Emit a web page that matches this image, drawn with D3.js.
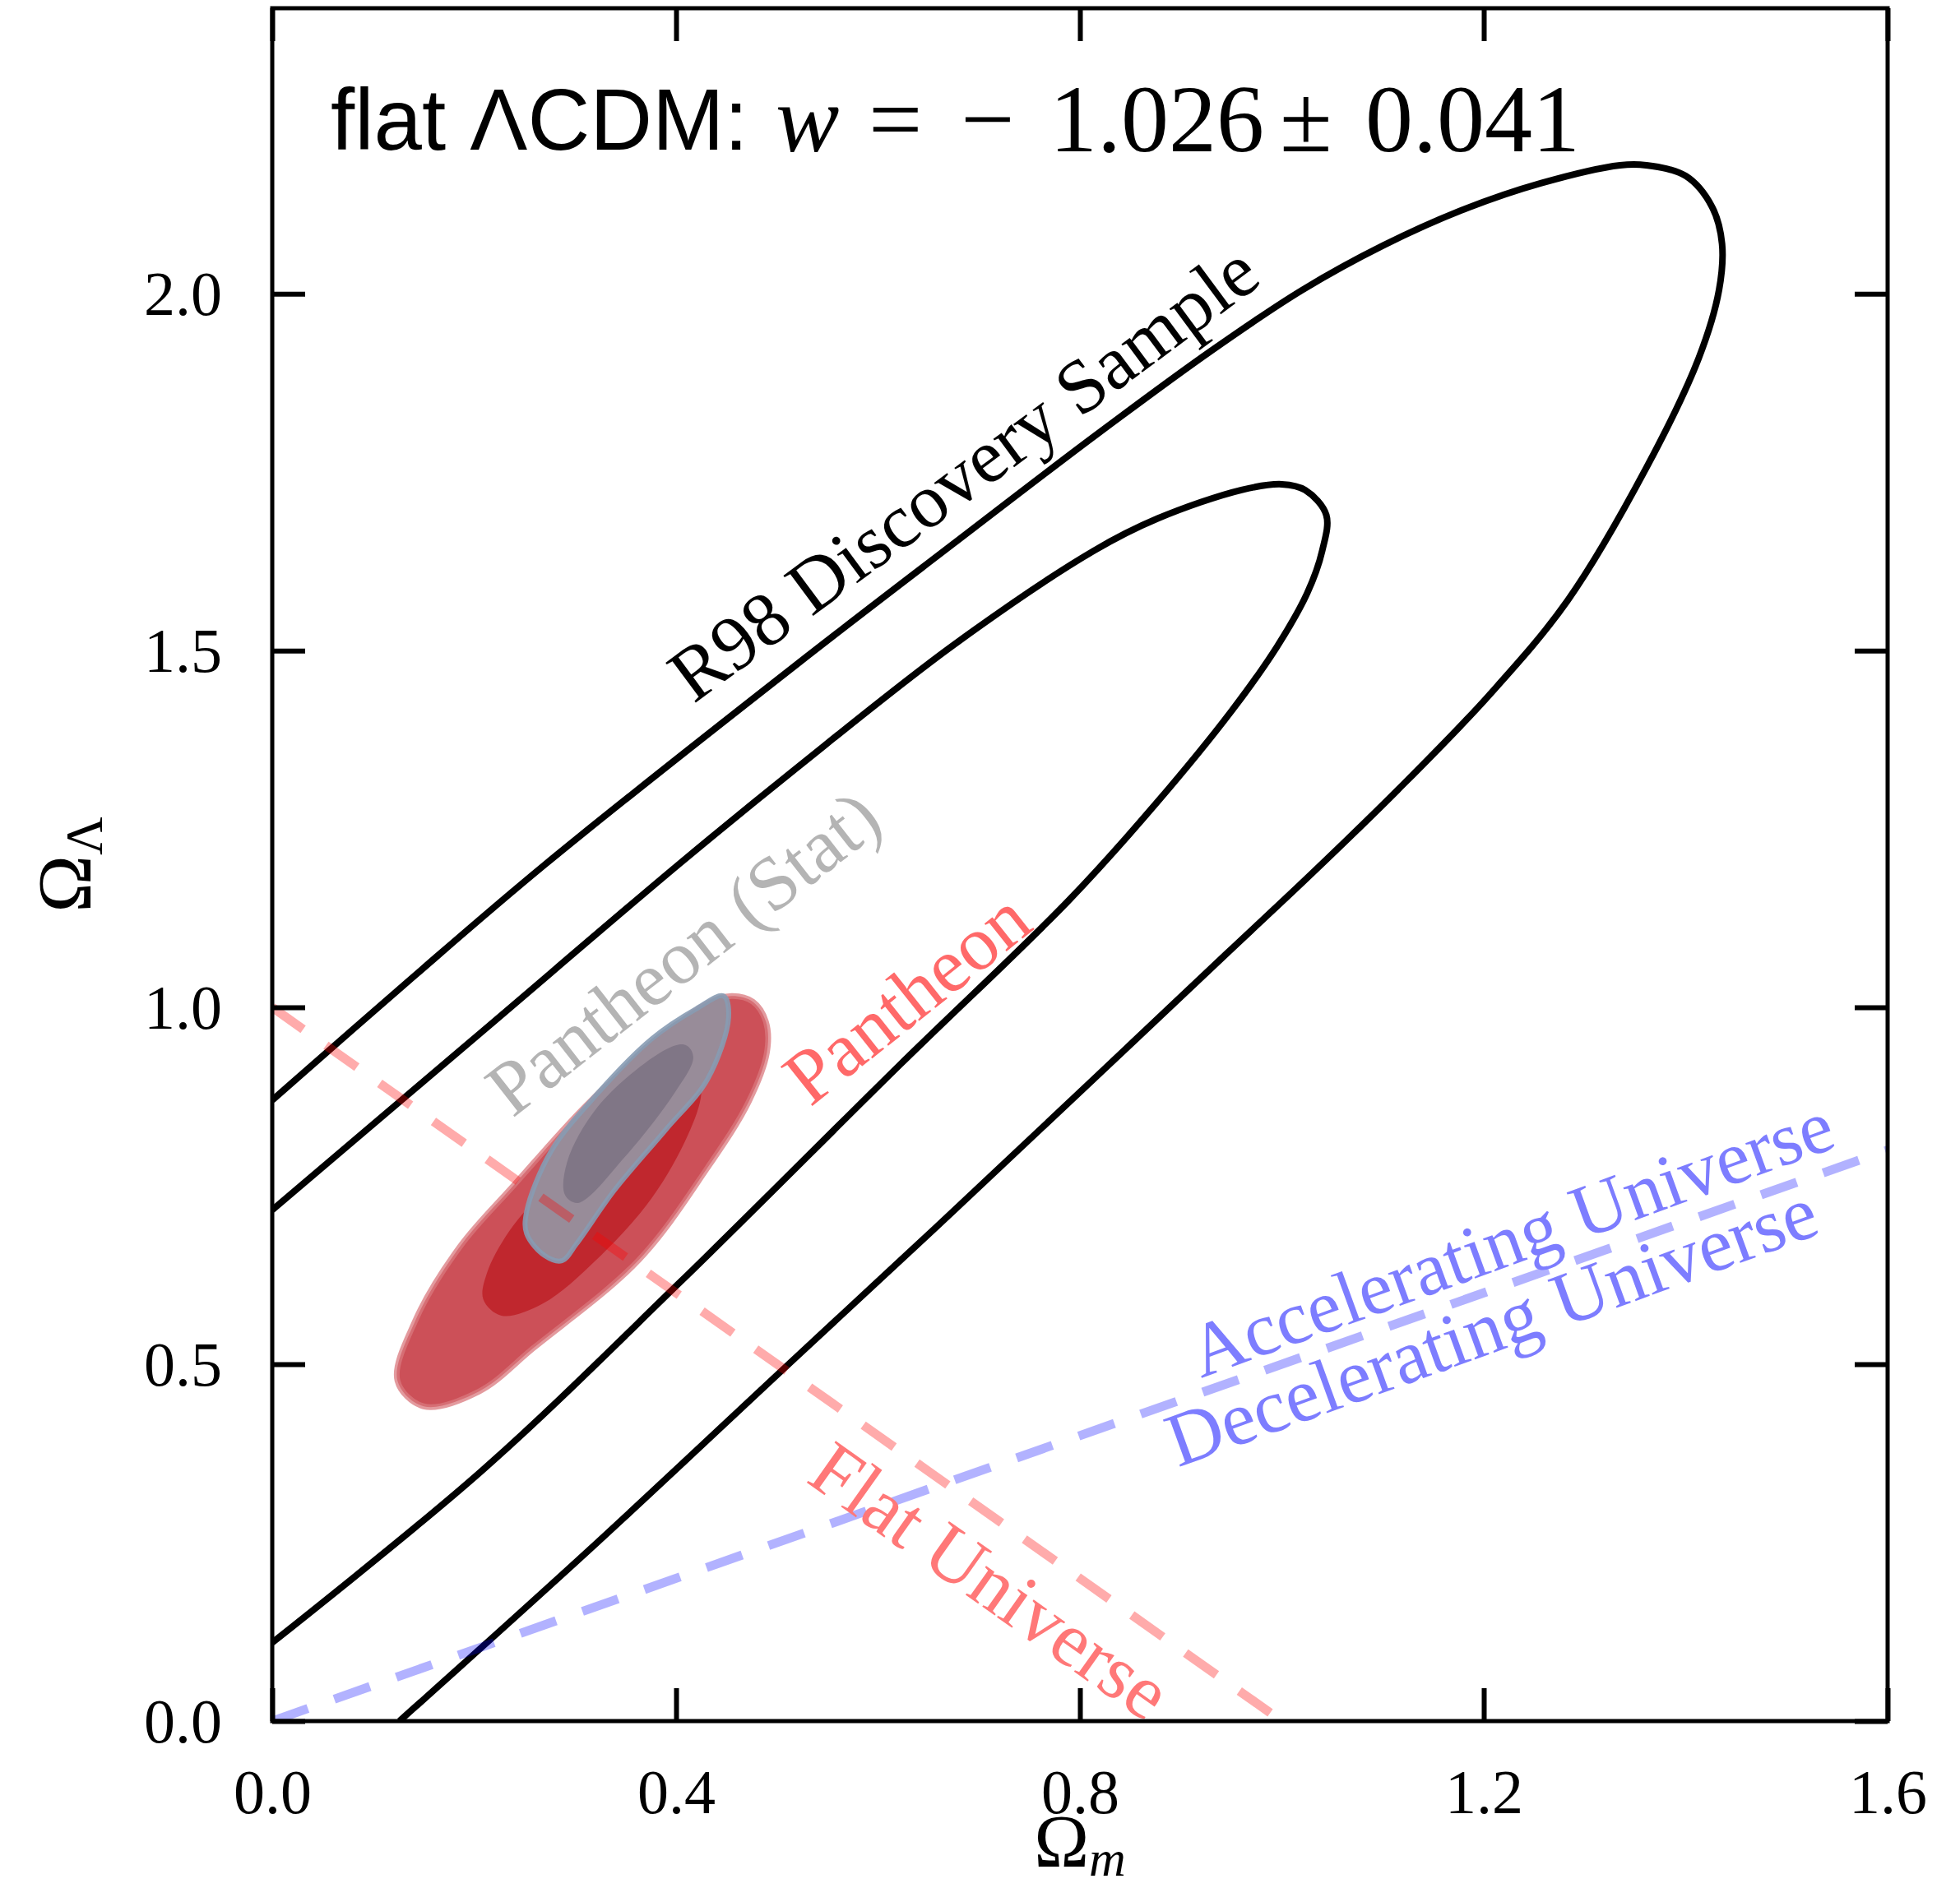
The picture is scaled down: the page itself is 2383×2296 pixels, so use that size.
<!DOCTYPE html>
<html><head><meta charset="utf-8">
<script src="https://cdn.jsdelivr.net/npm/d3@7"></script>
<style>body{margin:0;background:#fff}svg{display:block}</style>
</head><body>
<svg id="chart" width="2383" height="2296"></svg>
<script>
// ---------- data ----------
const xTicks = [0.0, 0.4, 0.8, 1.2, 1.6];
const xTickLabels = ["0.0", "0.4", "0.8", "1.2", "1.6"];
const yTicks = [0.0, 0.5, 1.0, 1.5, 2.0];
const yTickLabels = ["0.0", "0.5", "1.0", "1.5", "2.0"];

// R98 discovery sample contours (Omega_m, Omega_Lambda)
const r98Outer = [[0.000,0.870],[0.135,1.037],[0.270,1.200],[0.519,1.480],[0.675,1.650],[0.814,1.800],[0.930,1.920],[1.020,2.005],[1.101,2.068],[1.180,2.118],[1.257,2.155],[1.335,2.180],[1.361,2.180],[1.400,2.165],[1.426,2.122],[1.436,2.070],[1.433,2.005],[1.413,1.910],[1.361,1.756],[1.283,1.570],[1.205,1.437],[1.115,1.305],[1.030,1.188],[0.945,1.075],[0.814,0.900],[0.675,0.715],[0.519,0.510],[0.311,0.236],[0.126,0.000]];
const r98Inner = [[0.000,0.716],[0.207,0.965],[0.404,1.202],[0.519,1.335],[0.675,1.508],[0.814,1.640],[0.877,1.685],[0.960,1.725],[1.000,1.733],[1.023,1.725],[1.044,1.690],[1.040,1.640],[1.025,1.580],[0.995,1.505],[0.950,1.415],[0.875,1.285],[0.789,1.150],[0.622,0.920],[0.404,0.615],[0.207,0.350],[0.000,0.110]];

// Pantheon (filled) contours
const pantheon2s = [[0.124,0.477],[0.150,0.441],[0.205,0.462],[0.259,0.523],[0.363,0.646],[0.431,0.775],[0.472,0.868],[0.490,0.937],[0.489,0.980],[0.476,1.008],[0.455,1.016],[0.430,1.005],[0.363,0.930],[0.309,0.860],[0.240,0.752],[0.186,0.665],[0.142,0.562]];
const pantheon1s = [[0.209,0.591],[0.227,0.568],[0.268,0.585],[0.323,0.649],[0.376,0.733],[0.412,0.822],[0.425,0.880],[0.420,0.925],[0.395,0.915],[0.330,0.830],[0.270,0.745],[0.235,0.687],[0.213,0.629]];
const stat2s = [[0.447,1.016],[0.452,0.986],[0.431,0.899],[0.390,0.829],[0.339,0.744],[0.301,0.668],[0.287,0.645],[0.270,0.652],[0.252,0.683],[0.252,0.714],[0.276,0.798],[0.322,0.879],[0.376,0.956],[0.420,0.998]];
const stat1s = [[0.412,0.945],[0.417,0.929],[0.398,0.879],[0.349,0.790],[0.303,0.726],[0.290,0.737],[0.292,0.783],[0.322,0.860],[0.376,0.929],[0.403,0.948]];

// reference lines
const flatLine = [[0.0,1.0],[1.0,0.0]];        // Omega_m + Omega_L = 1
const accelLine = [[0.0,0.0],[1.6,0.8]];       // q0 = 0

// ---------- layout ----------
const svg = d3.select("#chart");
const x = d3.scaleLinear().domain([0, 1.6]).range([331, 2295]);
const y = d3.scaleLinear().domain([0, 2.4]).range([2093, 10]);
const serif = "'Liberation Serif', 'Times New Roman', serif";
const sans = "'Liberation Sans', Arial, Helvetica, sans-serif";

svg.append("rect").attr("width",2383).attr("height",2296).attr("fill","#fff");

svg.append("defs").append("clipPath").attr("id","plotclip")
  .append("rect").attr("x",x(0)).attr("y",y(2.4)).attr("width",x(1.6)-x(0)).attr("height",y(0)-y(2.4));

const plot = svg.append("g").attr("clip-path","url(#plotclip)");

const closed = d3.line().x(d=>x(d[0])).y(d=>y(d[1])).curve(d3.curveCatmullRomClosed.alpha(0.5));
const open = d3.line().x(d=>x(d[0])).y(d=>y(d[1])).curve(d3.curveCatmullRom.alpha(0.5));
const straight = d3.line().x(d=>x(d[0])).y(d=>y(d[1]));

// filled Pantheon contours
plot.append("path").attr("d", closed(pantheon2s)).attr("fill","#cc5058")
  .attr("stroke","rgba(218,120,126,0.75)").attr("stroke-width",7);
plot.append("path").attr("d", closed(pantheon1s)).attr("fill","#c0272e");
plot.append("path").attr("d", closed(stat2s)).attr("fill","#988c99")
  .attr("stroke","rgba(135,155,178,0.9)").attr("stroke-width",6);
plot.append("path").attr("d", closed(stat1s)).attr("fill","#807686");

// R98 black contours
[r98Outer, r98Inner].forEach(c => {
  plot.append("path").attr("d", open(c)).attr("fill","none")
    .attr("stroke","#000").attr("stroke-width",8).attr("stroke-linejoin","round");
});

// dashed reference lines
plot.append("path").attr("d", straight(flatLine)).attr("fill","none")
  .attr("stroke","rgba(255,0,0,0.33)").attr("stroke-width",11).attr("stroke-dasharray","46,34");
plot.append("path").attr("d", straight(accelLine)).attr("fill","none")
  .attr("stroke","rgba(0,0,255,0.3)").attr("stroke-width",11).attr("stroke-dasharray","46,34");

// in-plot labels
function label(txt, cx, cy, rot, color, size) {
  svg.append("text").attr("transform",`translate(${cx},${cy}) rotate(${rot})`)
    .attr("text-anchor","middle").attr("font-family",serif).attr("font-size",size || 92)
    .attr("fill",color).text(txt);
}
label("R98 Discovery Sample", 1190, 600, -36.5, "#000", 93);
label("Pantheon (Stat)", 850, 1183, -38, "rgb(180,180,180)", 93);
label("Pantheon", 1122, 1238, -38.5, "rgb(255,105,105)", 94);
label("Flat Universe", 1186, 1948, 35.3, "rgb(255,120,120)", 94);
label("Accelerating Universe", 1848, 1535, -20, "rgb(125,125,255)");
label("Decelerating Universe", 1824, 1642, -20, "rgb(125,125,255)", 93);

// ---------- axes ----------
function styleTicks(g){ g.select(".domain").remove(); g.selectAll("line").attr("stroke","#000").attr("stroke-width",6); }
const gb = svg.append("g").attr("transform",`translate(0,${y(0)})`)
  .call(d3.axisBottom(x).tickValues(xTicks).tickFormat((d,i)=>xTickLabels[i]).tickSizeInner(-40).tickSizeOuter(0));
styleTicks(gb);
gb.selectAll("text").attr("y",112).attr("dy",null).attr("font-family",serif).attr("font-size",76).attr("fill","#000");
gb.attr("font-family",serif).attr("font-size",76);

const gt = svg.append("g").attr("transform",`translate(0,${y(2.4)})`)
  .call(d3.axisTop(x).tickValues(xTicks).tickSizeInner(-40).tickSizeOuter(0));
styleTicks(gt); gt.selectAll("text").remove();

const gl = svg.append("g").attr("transform",`translate(${x(0)},0)`)
  .call(d3.axisLeft(y).tickValues(yTicks).tickFormat((d,i)=>yTickLabels[i]).tickSizeInner(-40).tickSizeOuter(0));
styleTicks(gl);
gl.selectAll("text").attr("x",-61).attr("dy",null).attr("y",25).attr("text-anchor","end")
  .attr("font-family",serif).attr("font-size",76).attr("fill","#000");
gl.attr("font-family",serif).attr("font-size",76);

const gr = svg.append("g").attr("transform",`translate(${x(1.6)},0)`)
  .call(d3.axisRight(y).tickValues(yTicks).tickSizeInner(-40).tickSizeOuter(0));
styleTicks(gr); gr.selectAll("text").remove();

// frame
svg.append("rect").attr("x",x(0)).attr("y",y(2.4)).attr("width",x(1.6)-x(0)).attr("height",y(0)-y(2.4))
  .attr("fill","none").attr("stroke","#000").attr("stroke-width",5);

// axis titles
const xl = svg.append("text").attr("x",(x(0)+x(1.6))/2).attr("y",2270).attr("text-anchor","middle")
  .attr("font-family",serif).attr("font-size",90).attr("fill","#000");
xl.append("tspan").text("Ω");
xl.append("tspan").attr("font-size",62).attr("font-style","italic").attr("dy",11).text("m");

const yl = svg.append("text").attr("transform",`translate(110,${(y(0)+y(2.4))/2}) rotate(-90)`)
  .attr("text-anchor","middle").attr("font-family",serif).attr("font-size",94).attr("fill","#000");
yl.append("tspan").text("Ω");
yl.append("tspan").attr("font-size",64).attr("dy",14).text("Λ");

// title
const t = svg.append("g");
t.append("text").attr("x",402).attr("y",182).attr("font-family",sans).attr("font-size",105).attr("fill","#000").text("flat ΛCDM:");
const tm = t.append("text").attr("y",184).attr("font-family",serif).attr("font-size",116).attr("fill","#000");
tm.append("tspan").attr("x",943).attr("font-style","italic").text("w");
tm.append("tspan").attr("x",1056).text("=");
tm.append("tspan").attr("x",1168).text("−");
tm.append("tspan").attr("x",1276).text("1.026");
tm.append("tspan").attr("x",1556).text("±");
tm.append("tspan").attr("x",1660).text("0.041");
</script>
</body></html>
